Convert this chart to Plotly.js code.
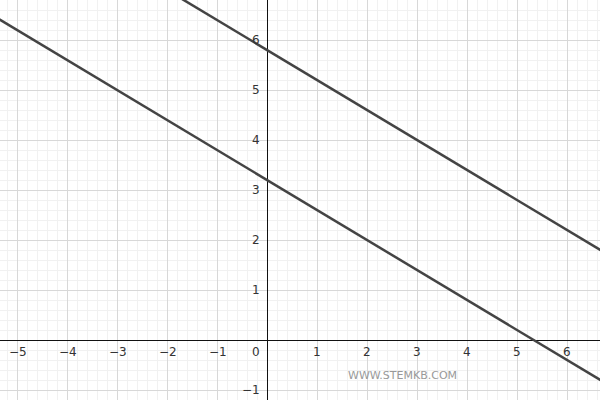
<!DOCTYPE html>
<html>
<head>
<meta charset="utf-8">
<script src="https://cdn.plot.ly/plotly-3.0.1.min.js"></script>
<style>html,body{margin:0;padding:0;background:#fff}#plot{width:600px;height:400px}</style>
</head>
<body>
<div id="plot"></div>
<script>
// two parallel lines, slope -0.6
var lineX = [-6, 7];
var lowerY = [6.8, -1.0];   // y = -0.6x + 3.2
var upperY = [9.4, 1.6];    // y = -0.6x + 5.8
var xTicks = [-5, -4, -3, -2, -1, 1, 2, 3, 4, 5, 6];
var yTicks = [-1, 1, 2, 3, 4, 5, 6];

var lineStyle = {color: '#444444', width: 2.5};
var data = [
  {x: lineX, y: lowerY, mode: 'lines', line: lineStyle, hoverinfo: 'skip'},
  {x: lineX, y: upperY, mode: 'lines', line: lineStyle, hoverinfo: 'skip'}
];

var lblFont = {family: 'DejaVu Sans', size: 12, color: '#333333'};
var annotations = [];
xTicks.forEach(function (t) {
  annotations.push({x: t, y: 0, xref: 'x', yref: 'y', text: t < 0 ? '\u2212' + (-t) : String(t),
    showarrow: false, yanchor: 'top', yshift: -3, xshift: t < 0 ? 1 : 0, font: lblFont});
});
yTicks.forEach(function (t) {
  annotations.push({x: 0, y: t, xref: 'x', yref: 'y', text: t < 0 ? '\u2212' + (-t) : String(t),
    showarrow: false, xanchor: 'right', xshift: -5, font: lblFont});
});
annotations.push({x: 0, y: 0, xref: 'x', yref: 'y', text: '0', showarrow: false,
  xanchor: 'right', yanchor: 'top', xshift: -5, yshift: -3, font: lblFont});
annotations.push({x: 0.67, y: 0.0625, xref: 'paper', yref: 'paper', text: 'WWW.STEMKB.COM',
  xanchor: 'center', yanchor: 'middle',
  showarrow: false, font: {family: 'DejaVu Sans', size: 11, color: '#999999'}});

var axisCommon = {
  showticklabels: false, ticks: '',
  showgrid: true, gridcolor: '#d8d8d8', gridwidth: 1,
  minor: {dtick: 0.2, showgrid: true, gridcolor: '#f1f1f1', gridwidth: 1},
  zeroline: true, zerolinecolor: '#111111', zerolinewidth: 1,
  dtick: 1, tick0: 0, fixedrange: true
};

var layout = {
  width: 600, height: 400,
  margin: {l: 0, r: 0, t: 0, b: 0},
  showlegend: false,
  paper_bgcolor: '#ffffff', plot_bgcolor: '#ffffff',
  xaxis: Object.assign({range: [-5.34, 6.66]}, axisCommon),
  yaxis: Object.assign({range: [-1.2, 6.8]}, axisCommon),
  annotations: annotations
};

Plotly.newPlot('plot', data, layout, {staticPlot: true});
</script>
</body>
</html>
